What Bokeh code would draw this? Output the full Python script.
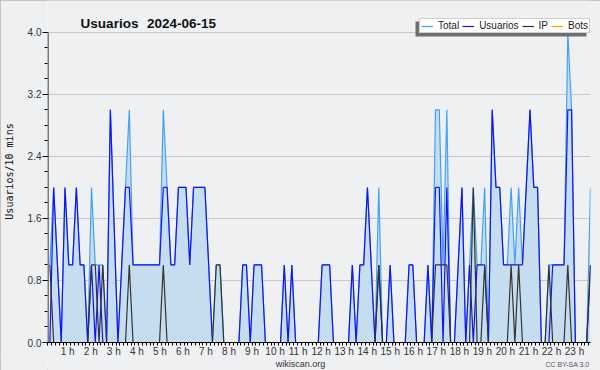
from bokeh.plotting import figure
from bokeh.layouts import column
from bokeh.models import (FixedTicker, PrintfTickFormatter, CustomJSTickFormatter, Legend,
                          LegendItem, Label, BoxAnnotation, Range1d)
from bokeh.embed import file_html
from bokeh.resources import INLINE

# ---- data: one value per 10-minute slot, 00:00 .. 23:50 ----
usuarios = [
    0, 2, 1, 0, 2, 1, 1, 2, 1, 1,
    0, 1, 0, 1, 0, 0, 3, 1.5, 0, 1,
    2, 2, 1, 1, 1, 1, 1, 1, 1, 1,
    2, 2, 1, 1, 2, 2, 2, 1, 2, 2,
    2, 2, 1, 0, 0, 0, 0, 0, 0, 0,
    0, 1, 1, 0, 1, 1, 1, 0, 0, 0,
    0, 0, 1, 0, 1, 0, 0, 0, 0, 0,
    0, 0, 1, 1, 1, 0, 0, 0, 0, 0,
    1, 0, 1, 1, 2, 1, 0, 1, 0, 0,
    1, 0, 0, 0, 0, 1, 1, 0, 0, 0,
    1, 0, 2, 2, 0, 2, 0, 0, 1, 2,
    0, 1, 0, 1, 1, 1, 0, 3, 2, 2,
    1, 1, 1, 1, 1, 1, 2, 3, 2, 2,
    0, 0, 0, 1, 1, 1, 1, 3, 3, 0,
    0, 0, 0, 1,
]
ip = [
    1, 0, 0, 0, 0, 0, 0, 0, 0, 0,
    0, 1, 1, 0, 1, 0, 0, 0, 0, 0,
    0, 1, 0, 0, 0, 0, 0, 0, 0, 0,
    1, 0, 0, 0, 0, 0, 0, 0, 0, 0,
    0, 0, 0, 0, 1, 1, 0, 0, 0, 0,
    0, 0, 0, 0, 0, 0, 0, 0, 0, 0,
    0, 0, 0, 0, 0, 0, 0, 0, 0, 0,
    0, 0, 0, 0, 0, 0, 0, 0, 0, 0,
    0, 0, 0, 0, 0, 0, 0, 1, 0, 0,
    0, 0, 0, 0, 0, 0, 0, 0, 0, 0,
    0, 0, 1, 1, 1, 1, 0, 0, 0, 0,
    0, 0, 2, 0, 0, 1, 0, 0, 0, 0,
    0, 0, 1, 0, 1, 0, 0, 0, 0, 0,
    0, 0, 1, 0, 0, 0, 0, 1, 0, 0,
    0, 0, 0, 1,
]
total = [
    1, 2, 1, 0, 2, 1, 1, 2, 1, 1,
    0, 2, 1, 1, 1, 0, 3, 1.5, 0, 1,
    2, 3, 1, 1, 1, 1, 1, 1, 1, 1,
    3, 2, 1, 1, 2, 2, 2, 1, 2, 2,
    2, 2, 1, 0, 1, 1, 0, 0, 0, 0,
    0, 1, 1, 0, 1, 1, 1, 0, 0, 0,
    0, 0, 1, 0, 1, 0, 0, 0, 0, 0,
    0, 0, 1, 1, 1, 0, 0, 0, 0, 0,
    1, 0, 1, 1, 2, 1, 0, 2, 0, 0,
    1, 0, 0, 0, 0, 1, 1, 0, 0, 0,
    1, 0, 3, 3, 1, 3, 0, 0, 1, 2,
    0, 1, 2, 1, 1, 2, 0, 3, 2, 2,
    1, 1, 2, 1, 2, 1, 2, 3, 2, 2,
    0, 0, 1, 1, 1, 1, 1, 4, 3, 0,
    0, 0, 0, 2,
]
bots = [
    0, 0, 0, 0, 0, 0, 0, 0, 0, 0,
    0, 0, 0, 0, 0, 0, 0, 0, 0, 0,
    0, 0, 0, 0, 0, 0, 0, 0, 0, 0,
    0, 0, 0, 0, 0, 0, 0, 0, 0, 0,
    0, 0, 0, 0, 0, 0, 0, 0, 0, 0,
    0, 0, 0, 0, 0, 0, 0, 0, 0, 0,
    0, 0, 0, 0, 0, 0, 0, 0, 0, 0,
    0, 0, 0, 0, 0, 0, 0, 0, 0, 0,
    0, 0, 0, 0, 0, 0, 0, 0, 0, 0,
    0, 0, 0, 0, 0, 0, 0, 0, 0, 0,
    0, 0, 0, 0, 0, 0, 0, 0, 0, 0,
    0, 0, 0, 0, 0, 0, 0, 0, 0, 0,
    0, 0, 0, 0, 0, 0, 0, 0, 0, 0,
    0, 0, 0, 0, 0, 0, 0, 0, 0, 0,
    0, 0, 0, 0,
]
hour_labels = list(range(1, 24))
y_ticks = [0.0, 0.8, 1.6, 2.4, 3.2, 4.0]
title_word = "Usuarios"
title_date = "2024-06-15"
y_title = "Usuarios/10 mins"
site_text = "wikiscan.org"
license_text = "CC BY-SA 3.0"

# ---- geometry ----
n = len(total)
xs = [(i + 0.5) / 6 for i in range(n)]

BG = "#eff0f2"
FONT = "Liberation Sans"
FRAME_W = 544           # px, frame from x=46 to x=590
FRAME_H = 344           # px, frame from y=0 to y=344 (value 4.0 at y~32)
x_end = (n - 0.5) / 6
px_per_h = FRAME_W / x_end
x_start = -0.5 / px_per_h
y_top = FRAME_H / 78.0

p = figure(width=600, height=359, output_backend="svg", toolbar_location=None,
           x_range=Range1d(x_start, x_end), y_range=Range1d(0, y_top),
           min_border_left=46, min_border_right=10, min_border_top=0, min_border_bottom=15,
           background_fill_color=BG, border_fill_color=BG)
p.outline_line_color = None

# area + lines
p.varea(x=xs, y1=0, y2=total, fill_color="#c6ddf0", fill_alpha=1.0)
r_bots = p.line(xs, bots, line_color="#ffa500", line_width=1.2)
r_total = p.line(xs, total, line_color="#45a2f2", line_width=1.2)
r_user = p.line(xs, usuarios, line_color="#1414f0", line_width=1.2)
r_ip = p.line(xs, ip, line_color="#333333", line_width=1.2)

# vertical axis line only up to the top tick
p.segment(x0=[0], y0=[0], x1=[0], y1=[y_ticks[-1]], line_color="#000000", line_width=1)

# x axis: minor tick every 10 min, hour labels
hour_pos = [(42.7 + 23.1 * h - 46) / px_per_h for h in hour_labels]
xa = p.xaxis[0]
xa.ticker = FixedTicker(ticks=hour_pos, minor_ticks=[k / 6 for k in range(n)])
xa.formatter = CustomJSTickFormatter(
    args=dict(k=px_per_h),
    code="return Math.round((tick * k + 3.3) / 23.1) + ' h';")
xa.major_tick_line_color = None
xa.major_tick_out = 0
xa.major_tick_in = 0
xa.minor_tick_out = 3
xa.minor_tick_in = 0
xa.minor_tick_line_color = "#000000"
xa.axis_line_color = "#000000"
xa.major_label_standoff = 0
xa.major_label_text_font = FONT
xa.major_label_text_font_size = "10px"
xa.major_label_text_color = "#333333"

ya = p.yaxis[0]
ya.ticker = FixedTicker(ticks=y_ticks, minor_ticks=[k * 0.2 for k in range(21)])
ya.formatter = PrintfTickFormatter(format="%.1f")
ya.major_tick_out = 5
ya.major_tick_in = 0
ya.minor_tick_out = 3
ya.minor_tick_in = 0
ya.major_tick_line_color = "#000000"
ya.minor_tick_line_color = "#000000"
ya.axis_line_color = None
ya.major_label_standoff = 1
ya.major_label_text_font = FONT
ya.major_label_text_font_size = "10px"
ya.major_label_text_color = "#333333"
ya.axis_label = y_title
ya.axis_label_text_font = "DejaVu Sans Mono"
ya.axis_label_text_font_size = "10px"
ya.axis_label_text_font_style = "normal"
ya.axis_label_text_color = "#111111"
ya.axis_label_standoff = 10

p.xgrid.visible = False
p.ygrid.ticker = FixedTicker(ticks=y_ticks)
p.ygrid.grid_line_color = "#c8c8c8"
p.ygrid.grid_line_width = 1

# legend shadow + legend
shadow = BoxAnnotation(left=415, right=586, top=21, bottom=36,
                       left_units="canvas", right_units="canvas",
                       top_units="canvas", bottom_units="canvas",
                       fill_color="#6e6e6e", fill_alpha=1, line_color=None)
p.add_layout(shadow)
legend = Legend(items=[LegendItem(label="Total", renderers=[r_total]),
                       LegendItem(label="Usuarios", renderers=[r_user]),
                       LegendItem(label="IP", renderers=[r_ip]),
                       LegendItem(label="Bots", renderers=[r_bots])],
                orientation="horizontal", location=(372, 309))
legend.label_text_font = FONT
legend.label_text_font_size = "10px"
legend.label_text_color = "#222222"
legend.label_standoff = 5
legend.label_width = 0
legend.label_height = 10
legend.glyph_width = 12
legend.glyph_height = 10
legend.spacing = 3
legend.padding = 1
legend.margin = 0
legend.border_line_color = "#a0a0a0"
legend.background_fill_color = "#ffffff"
legend.background_fill_alpha = 1
p.add_layout(legend, "center")

# title (two words, wide gap as in the original)
p.add_layout(Label(x=109, y=23, x_units="canvas", y_units="canvas", text=title_word,
                   text_font=FONT, text_font_size="13.5px", text_font_style="bold",
                   text_color="#111111", text_align="center", text_baseline="alphabetic"))
p.add_layout(Label(x=181, y=23, x_units="canvas", y_units="canvas", text=title_date,
                   text_font=FONT, text_font_size="13.5px", text_font_style="bold",
                   text_color="#111111", text_align="center", text_baseline="alphabetic"))

# footer strip (pulled up a few px so that it reaches just under the hour labels)
f = figure(width=600, height=14, output_backend="svg", toolbar_location=None,
           x_axis_type=None, y_axis_type=None,
           x_range=Range1d(0, 600), y_range=Range1d(0, 14),
           min_border_left=0, min_border_right=0, min_border_top=0, min_border_bottom=0,
           background_fill_color=BG, border_fill_color=BG,
           styles={"margin-top": "-3px"})
f.outline_line_color = None
f.grid.visible = False
f.add_layout(Label(x=300, y=7.5, x_units="canvas", y_units="canvas", text=site_text,
                   text_font=FONT, text_font_size="9px", text_color="#333333",
                   text_align="center", text_baseline="alphabetic"))
f.add_layout(Label(x=589, y=8, x_units="canvas", y_units="canvas", text=license_text,
                   text_font=FONT, text_font_size="7px", text_color="#555555",
                   text_align="right", text_baseline="alphabetic"))

layout = column(p, f, spacing=0,
                styles={"outline": "1px solid #b4b4b4", "outline-offset": "-1px"})
open("out.html", "w").write(file_html(layout, INLINE))
